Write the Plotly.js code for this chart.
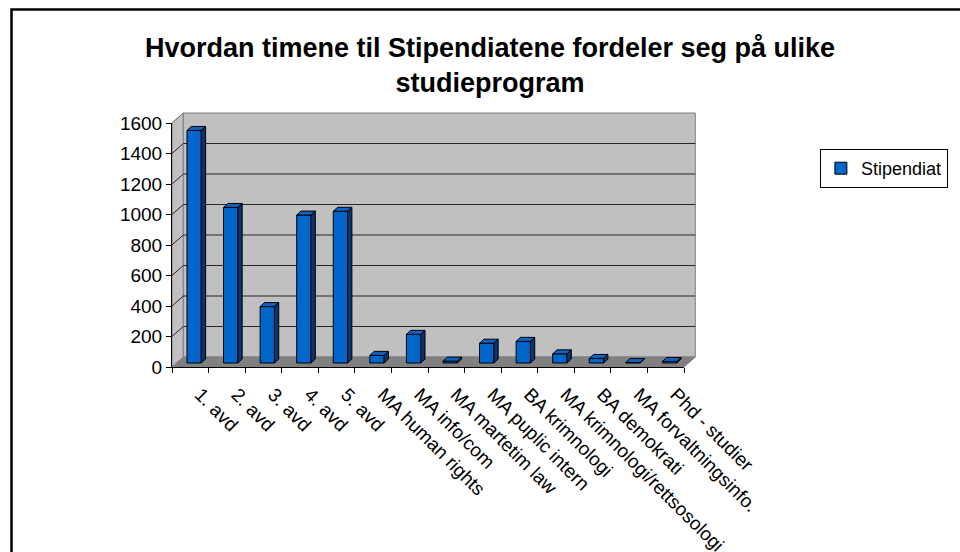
<!DOCTYPE html>
<html><head><meta charset="utf-8">
<script src="https://cdn.plot.ly/plotly-3.0.1.min.js"></script>
<style>html,body{margin:0;padding:0;background:#fff}#chart{width:960px;height:552px}</style>
</head><body><div id="chart"></div>
<script>
const categories = ["1. avd","2. avd","3. avd","4. avd","5. avd","MA human rights","MA info/com","MA martetim law","MA puplic intern","BA krimnologi","MA krimnologi/rettsosologi","BA demokrati","MA forvaltningsinfo.","Phd - studier"];
const values = [1525,1020,370,970,995,50,188,12,130,142,60,30,3,10];
const yTickValues = [0,200,400,600,800,1000,1200,1400,1600];
const seriesName = "Stipendiat";
const chartTitle = "Hvordan timene til Stipendiatene fordeler seg på ulike<br>studieprogram";

// geometry in px
const L=172, R=692, T=123, B=367, DX=11.5, DY=10;
const yMax = 1600;
const PW=R-L, PH=B-T;
const px = x => (x-L)/PW;
const py = y => (B-y)/PH;
const n = categories.length;
const ux = n/PW, uy = yMax/PH;
const idx = categories.map((_,i)=>i);
const boundaries = categories.map((_,i)=>i-0.5).concat([n-0.5]);
const barW = 14.5*ux, barShift = 3.9*ux, barBase = 4*uy, depX = 4.4*ux, depY = 4*uy;

const topX=[], topY=[], sideX=[], sideY=[];
idx.forEach(i=>{
  const xl = i - barW/2 + barShift, xr = xl + barW;
  const yb = barBase, yt = barBase + values[i];
  topX.push(xl, xr, xr+depX, xl+depX, xl, null);
  topY.push(yt, yt, yt+depY, yt+depY, yt, null);
  sideX.push(xr, xr, xr+depX, xr+depX, xr, null);
  sideY.push(yb, yt, yt+depY, yb+depY, yb, null);
});

const font = "Arial, 'Liberation Sans', sans-serif";
const traces = [
  {type:'bar', x: idx, y: values, base: barBase, width: barW, offset: -barW/2+barShift,
   name: seriesName, marker:{color:'#0066cc', line:{color:'#000', width:1}}, hoverinfo:'y'},
  {type:'scatter', mode:'lines', x: sideX, y: sideY, fill:'toself', fillcolor:'#0b3370',
   line:{color:'#000', width:1}, showlegend:false, hoverinfo:'skip'},
  {type:'scatter', mode:'lines', x: topX, y: topY, fill:'toself', fillcolor:'#0d63c4',
   line:{color:'#000', width:1}, showlegend:false, hoverinfo:'skip'},
  {type:'scatter', mode:'markers', x: [], y: [], xaxis:'x2', yaxis:'y', showlegend:false, hoverinfo:'skip'}
];

const shapes = [];
shapes.push({type:'path', xref:'paper', yref:'paper', layer:'below',
  path:`M${px(L)},${py(B)} L${px(L)},${py(T)} L${px(L+DX)},${py(T-DY)} L${px(L+DX)},${py(B-DY)} Z`,
  fillcolor:'#c0c0c0', line:{color:'#808080', width:1}});
shapes.push({type:'rect', xref:'paper', yref:'paper', layer:'below',
  x0:px(L+DX), x1:px(R+DX), y0:py(B-DY), y1:py(T-DY), fillcolor:'#c0c0c0', line:{color:'#808080', width:1}});
yTickValues.forEach(v=>{
  if (v<=0) return;
  const yv = B - v/yMax*PH;
  if (v<yMax) shapes.push({type:'line', xref:'paper', yref:'paper', layer:'below',
    x0:px(L+DX), x1:px(R+DX), y0:py(yv-DY), y1:py(yv-DY), line:{color:'#262626', width:1}});
  shapes.push({type:'line', xref:'paper', yref:'paper', layer:'below',
    x0:px(L), x1:px(L+DX), y0:py(yv), y1:py(yv-DY), line:{color: v<yMax?'#262626':'#808080', width:1}});
});
shapes.push({type:'path', xref:'paper', yref:'paper', layer:'below',
  path:`M${px(L)},${py(B)} L${px(R)},${py(B)} L${px(R+DX)},${py(B-DY)} L${px(L+DX)},${py(B-DY)} Z`,
  fillcolor:'#808080', line:{color:'#808080', width:1}});
shapes.push({type:'rect', xref:'paper', yref:'paper', layer:'below',
  x0:px(9), x1:px(975), y0:py(570), y1:py(9.5), line:{color:'#000', width:2.5}});

const layout = {
  width:960, height:552,
  margin:{l:L, r:960-R, t:T, b:552-B, pad:0},
  paper_bgcolor:'#fff', plot_bgcolor:'rgba(0,0,0,0)',
  showlegend:true,
  font:{family:font, color:'#000', size:18},
  title:{text:chartTitle, font:{family:font, size:27, weight:'bold', color:'#000'},
    xref:'container', yref:'container', x:490/960, xanchor:'center', y:1-57/552, yanchor:'top'},
  xaxis:{type:'linear', range:[-0.5, n-0.5], tickmode:'array', tickvals: idx, ticktext: categories,
    tickangle:45, ticks:'', showgrid:false, zeroline:false, showline:true, linecolor:'#000', linewidth:1,
    tickfont:{size:19}, ticklabelstandoff:8, ticklabelshift:10, fixedrange:true},
  xaxis2:{type:'linear', overlaying:'x', anchor:'y', side:'bottom', range:[-0.5, n-0.5], tickmode:'array',
    tickvals: boundaries, ticks:'outside', ticklen:5, tickcolor:'#000', showticklabels:false,
    showgrid:false, zeroline:false, showline:false, fixedrange:true},
  yaxis:{range:[0, yMax], tickmode:'array', tickvals: yTickValues, ticks:'outside', ticklen:5, tickcolor:'#000',
    showgrid:false, zeroline:false, showline:true, linecolor:'#000', linewidth:1, tickfont:{size:19}, fixedrange:true},
  legend:{x:px(830), y:py(149), xanchor:'left', yanchor:'top', bgcolor:'#fff', bordercolor:'#000', borderwidth:1,
    font:{size:18}},
  shapes: shapes
};
Plotly.newPlot('chart', traces, layout, {displayModeBar:false, staticPlot:true});
</script></body></html>
